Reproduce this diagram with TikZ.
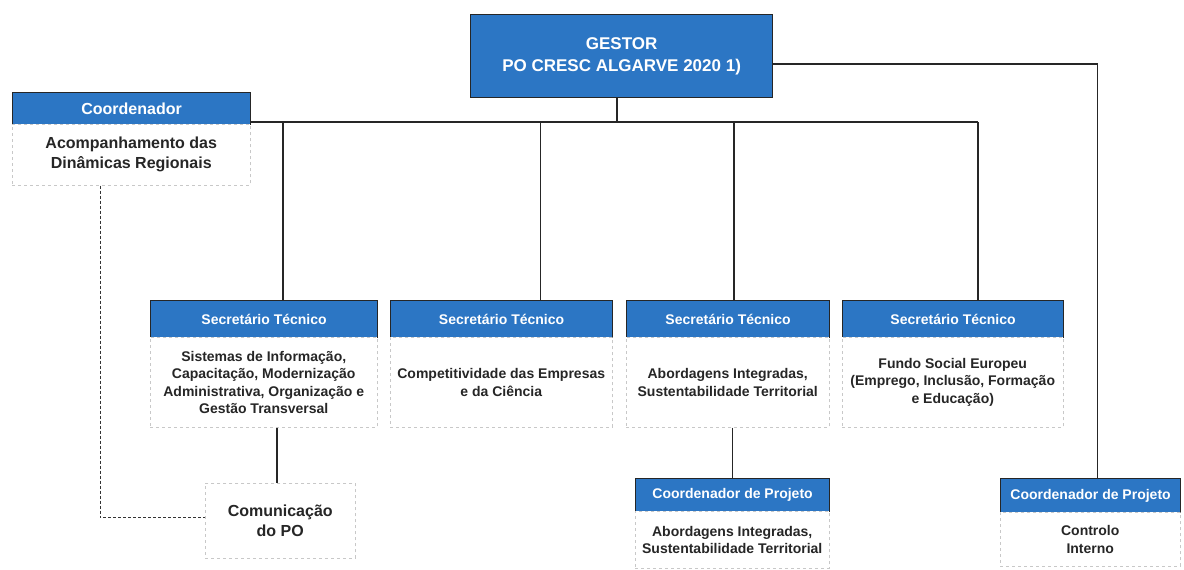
\documentclass[tikz,border=0pt]{standalone}
\usepackage{fontspec}
\setmainfont{Liberation Sans}
\definecolor{hblue}{RGB}{44,118,196}
\definecolor{lgray}{RGB}{200,200,200}
\tikzset{
  hdr/.style={draw=black!85, line width=1.2pt, fill=hblue, text=white, font=\bfseries\fontsize{14}{16}\selectfont, inner sep=0pt, anchor=north west},
  bodybox/.style={draw=lgray, dashed, line width=0.5pt, fill=white, font=\bfseries\fontsize{14}{17.5}\selectfont, text=black!85, align=center, inner sep=0pt, anchor=north west},
  bigbody/.style={bodybox, font=\bfseries\fontsize{16}{20}\selectfont},
  link/.style={draw=black!85, line width=1.6pt},
  dlink/.style={draw=black!80, line width=0.8pt, dash pattern=on 3pt off 2pt}
}
\begin{document}
\begin{tikzpicture}[x=1pt,y=-1pt]
\useasboundingbox[fill=white] (0,0) rectangle (1184,570);
% gestor
\node[hdr, minimum width=302pt, minimum height=83pt, align=center, font=\bfseries\fontsize{17}{22}\selectfont] (G) at (470,14) {GESTOR\\PO CRESC ALGARVE 2020 1)};
% coordenador
\node[hdr, minimum width=238pt, minimum height=32pt, font=\bfseries\fontsize{16}{18}\selectfont] (cH) at (12,92) {Coordenador};
\node[bigbody, minimum width=238pt, minimum height=61pt] (cB) at (12,124) {Acompanhamento das\\Dinâmicas Regionais};
% secretarios
\node[hdr, minimum width=227pt, minimum height=37pt] (s1H) at (150,300) {Secretário Técnico};
\node[bodybox, minimum width=227pt, minimum height=90pt] (s1B) at (150,337) {Sistemas de Informação,\\Capacitação, Modernização\\Administrativa, Organização e\\Gestão Transversal};
\node[hdr, minimum width=222pt, minimum height=37pt] (s2H) at (390,300) {Secretário Técnico};
\node[bodybox, minimum width=222pt, minimum height=90pt] (s2B) at (390,337) {Competitividade das Empresas\\e da Ciência};
\node[hdr, minimum width=203pt, minimum height=37pt] (s3H) at (626,300) {Secretário Técnico};
\node[bodybox, minimum width=203pt, minimum height=90pt] (s3B) at (626,337) {Abordagens Integradas,\\Sustentabilidade Territorial};
\node[hdr, minimum width=221pt, minimum height=37pt] (s4H) at (842,300) {Secretário Técnico};
\node[bodybox, minimum width=221pt, minimum height=90pt] (s4B) at (842,337) {Fundo Social Europeu\\(Emprego, Inclusão, Formação\\e Educação)};
% comunicacao
\node[bigbody, minimum width=150pt, minimum height=75pt] (com) at (205,483) {Comunicação\\do PO};
% coordenadores de projeto
\node[hdr, minimum width=194pt, minimum height=33pt] (p1H) at (635,478) {Coordenador de Projeto};
\node[bodybox, minimum width=194pt, minimum height=57pt] (p1B) at (635,511) {Abordagens Integradas,\\Sustentabilidade Territorial};
\node[hdr, minimum width=180pt, minimum height=34pt] (p2H) at (1000,478) {Coordenador de Projeto};
\node[bodybox, minimum width=180pt, minimum height=54pt] (p2B) at (1000,512) {Controlo\\Interno};
% connector anchors
\coordinate (bus) at (617,122);
\coordinate (t1) at ([xshift=19pt]s1H.north);
\coordinate (t2) at ([xshift=39pt]s2H.north);
\coordinate (t3) at ([xshift=6pt]s3H.north);
\coordinate (t4) at ([xshift=25pt]s4H.north);
\coordinate (tcom) at ([xshift=-3pt]com.north);
\coordinate (tp2) at ([xshift=7pt]p2H.north);
\coordinate (gr) at ([yshift=-8pt]G.east);
\coordinate (dstart) at ([xshift=-31pt]cB.south);
\coordinate (dend) at ([yshift=3pt]com.west);
% connectors
\draw[link] (G.south -| bus) -- (bus);
\draw[link] (cH.south east |- bus) -- (t4 |- bus);
\draw[link] (t1 |- bus) -- (t1);
\draw[link] (t2 |- bus) -- (t2);
\draw[link] (t3 |- bus) -- (t3);
\draw[link] (t4 |- bus) -- (t4);
\draw[link] (gr) -| (tp2);
\draw[link] (s1B.south -| tcom) -- (tcom);
\draw[link] (s3B.south -| p1H.north) -- (p1H.north);
\draw[dlink] (dstart) |- (dend);
\end{tikzpicture}
\end{document}
